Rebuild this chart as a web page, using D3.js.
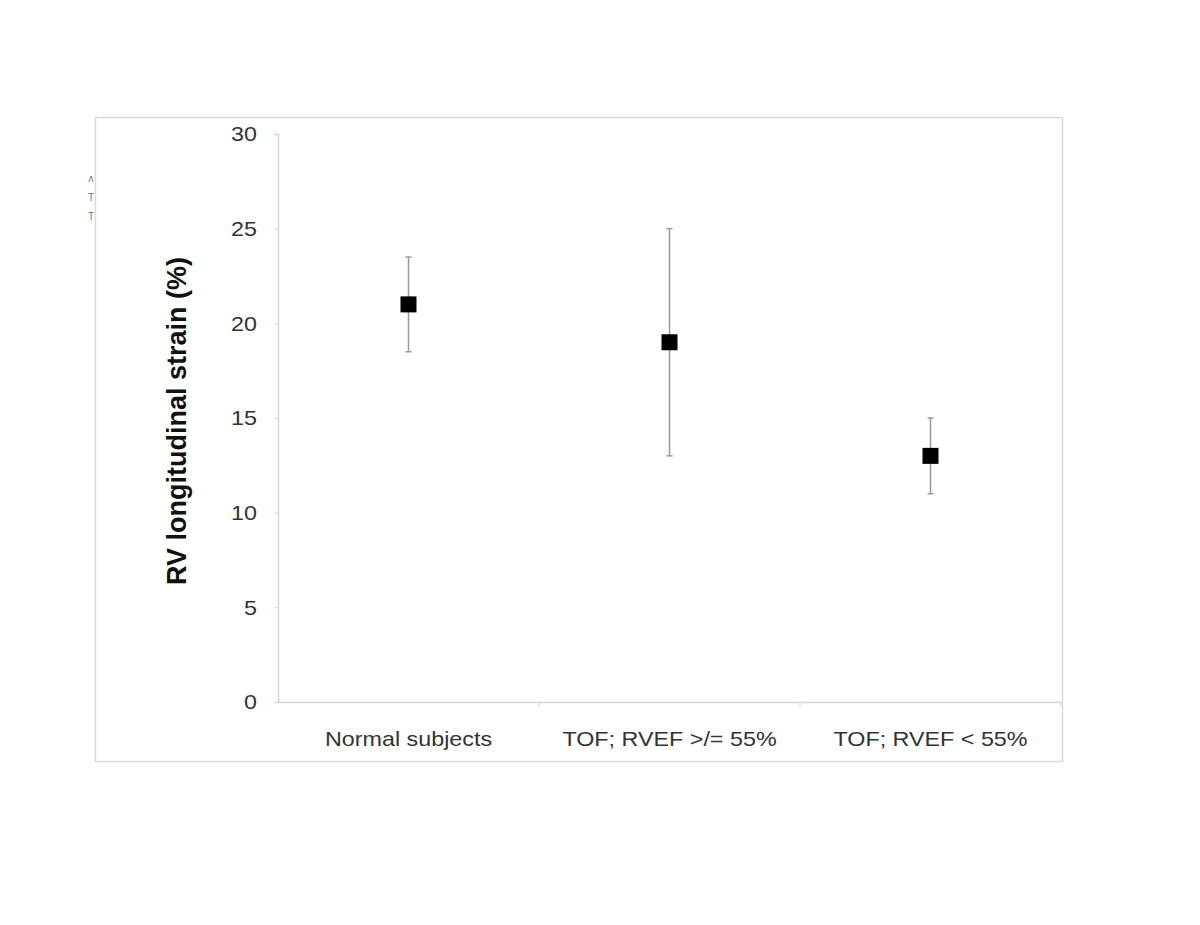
<!DOCTYPE html>
<html>
<head>
<meta charset="utf-8">
<script src="https://cdn.jsdelivr.net/npm/d3@7"></script>
<style>
  body { margin: 0; background: #fff; }
  text { font-family: "Liberation Sans", Arial, sans-serif; }
</style>
</head>
<body>
<script>
// data
const groups = ["Normal subjects", "TOF; RVEF >/= 55%", "TOF; RVEF < 55%"]
const means = [21, 19, 13]
const upper = [23.5, 25, 15]
const lower = [18.5, 13, 11]
const yTicks = [0, 5, 10, 15, 20, 25, 30]

const width = 1200, height = 925
const margin = {top: 134, right: 139, bottom: 223, left: 278}
const stretch = 1.11 // source picture is a little wide

const svg = d3.select("body").append("svg")
  .attr("width", width)
  .attr("height", height)

// outer frame
svg.append("rect")
  .attr("x", 95.5).attr("y", 117.5)
  .attr("width", 967).attr("height", 644)
  .attr("fill", "none")
  .attr("stroke", "#d9d9d9")
  .attr("stroke-width", 1.5)

// stray marks at left of frame
svg.selectAll(".stray")
  .data(["\u028C", "T", "T"])
  .enter().append("text")
  .attr("class", "stray")
  .attr("x", 91).attr("y", (d, i) => 182 + i * 19)
  .attr("text-anchor", "middle")
  .attr("font-size", 10)
  .attr("fill", "#777")
  .text(d => d)

const chart = svg.append("g")
  .attr("transform", "translate(" + margin.left + "," + margin.top + ")")
const w = width - margin.left - margin.right
const h = height - margin.top - margin.bottom

const x = d3.scaleBand().domain(groups).range([0, w])
const y = d3.scaleLinear().domain([0, 30]).range([h, 0])

function widen(sel) {
  sel.each(function() {
    const len = this.getComputedTextLength()
    d3.select(this)
      .attr("textLength", len * stretch)
      .attr("lengthAdjust", "spacingAndGlyphs")
  })
}

// y axis
const yAxis = chart.append("g")
  .call(d3.axisLeft(y).tickValues(yTicks).tickSize(4).tickPadding(17))
yAxis.select(".domain").attr("stroke", "#d6d6d6").attr("stroke-width", 1.5)
yAxis.selectAll(".tick line").attr("stroke", "#d6d6d6")
yAxis.selectAll(".tick text").attr("font-size", 21).attr("fill", "#333").call(widen)

// x axis, ticks at band edges
const xAxis = chart.append("g")
  .attr("transform", "translate(0," + h + ")")
  .call(d3.axisBottom(x).tickSize(0).tickPadding(29))
xAxis.select(".domain").attr("stroke", "#d6d6d6").attr("stroke-width", 1.5)
xAxis.selectAll(".tick text").attr("font-size", 21).attr("fill", "#333").call(widen)
chart.selectAll(".xtick")
  .data(groups)
  .enter().append("line")
  .attr("class", "xtick")
  .attr("x1", d => x(d) + x.bandwidth()).attr("x2", d => x(d) + x.bandwidth())
  .attr("y1", h).attr("y2", h + 5)
  .attr("stroke", "#d6d6d6")

// axis title
chart.append("text")
  .attr("transform", "translate(-92," + (h / 2 + 3) + ") rotate(-90)")
  .attr("text-anchor", "middle")
  .attr("font-size", 27)
  .attr("font-weight", "bold")
  .attr("fill", "#111")
  .text("RV longitudinal strain (%)")

// error bars
const cx = d => x(d) + x.bandwidth() / 2
const bars = chart.selectAll(".err")
  .data(groups)
  .enter().append("g")
  .attr("class", "err")
bars.append("line")
  .attr("x1", cx).attr("x2", cx)
  .attr("y1", (d, i) => y(upper[i])).attr("y2", (d, i) => y(lower[i]))
  .attr("stroke", "#999").attr("stroke-width", 1.5)
bars.append("line")
  .attr("x1", d => cx(d) - 3).attr("x2", d => cx(d) + 3)
  .attr("y1", (d, i) => y(upper[i])).attr("y2", (d, i) => y(upper[i]))
  .attr("stroke", "#999").attr("stroke-width", 1.5)
bars.append("line")
  .attr("x1", d => cx(d) - 3).attr("x2", d => cx(d) + 3)
  .attr("y1", (d, i) => y(lower[i])).attr("y2", (d, i) => y(lower[i]))
  .attr("stroke", "#999").attr("stroke-width", 1.5)

// square markers
chart.selectAll(".dot")
  .data(groups)
  .enter().append("rect")
  .attr("class", "dot")
  .attr("x", d => cx(d) - 8)
  .attr("y", (d, i) => y(means[i]) - 8)
  .attr("width", 16).attr("height", 16)
  .attr("fill", "#000")
</script>
</body>
</html>
